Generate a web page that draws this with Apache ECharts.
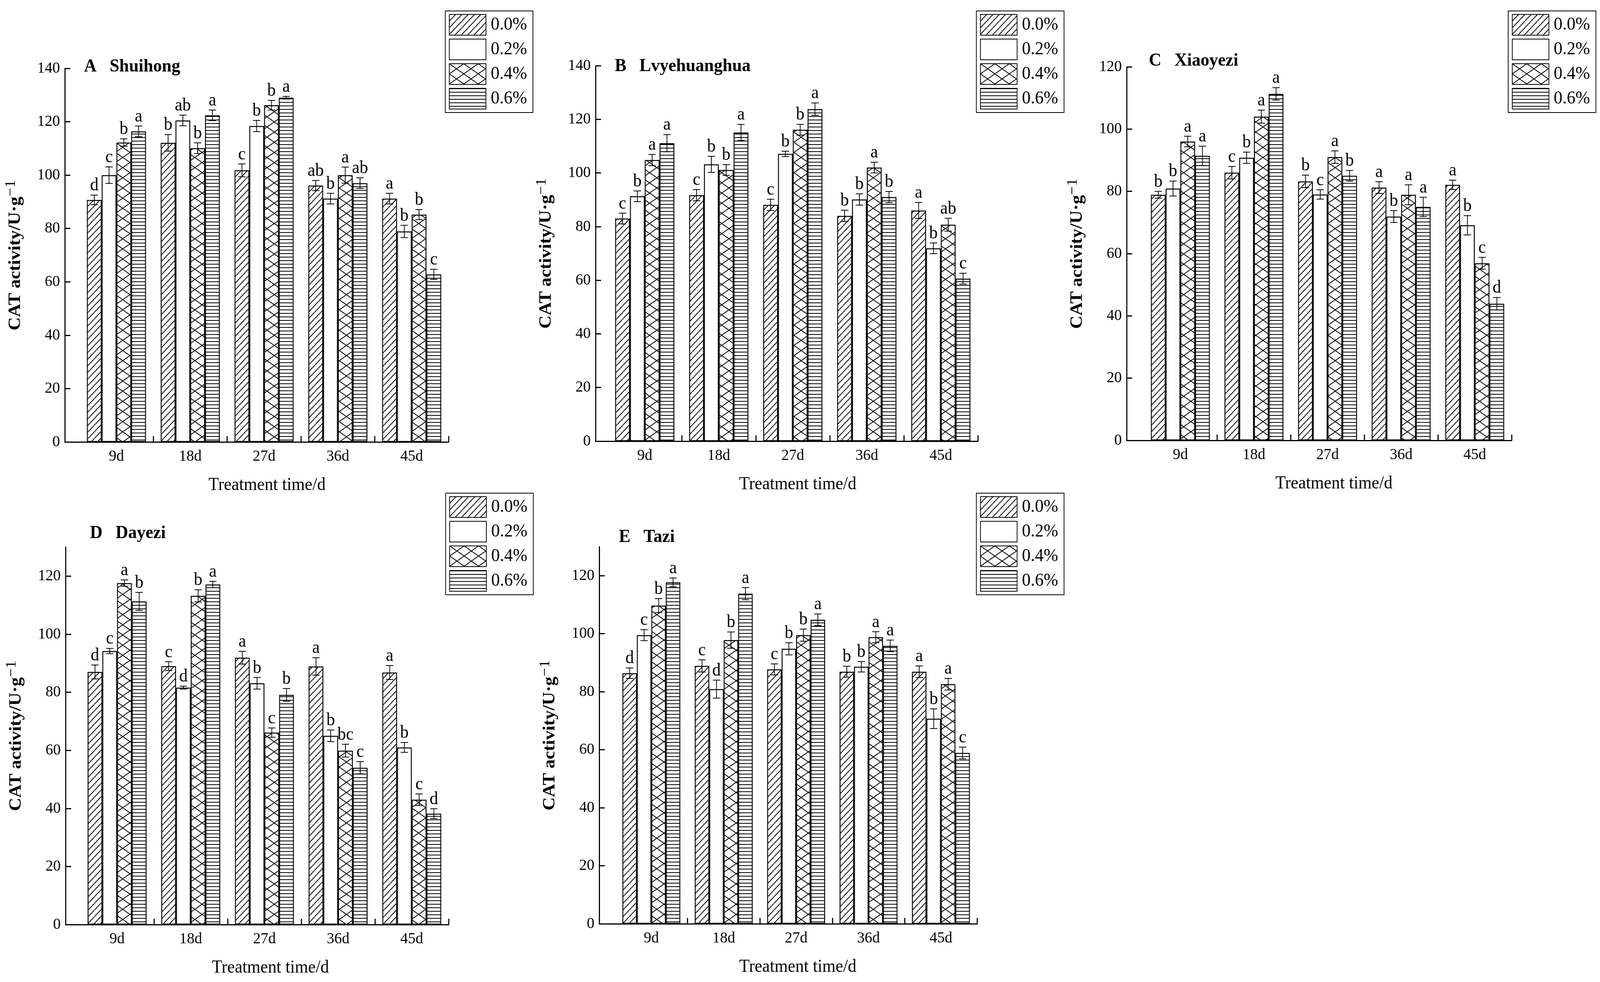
<!DOCTYPE html>
<html>
<head>
<meta charset="utf-8">
<script src="https://cdn.jsdelivr.net/npm/echarts@6/dist/echarts.min.js"></script>
<style>
html,body{margin:0;padding:0;background:#fff;overflow:hidden;}
#outer{position:relative;overflow:hidden;width:100vw;height:100vh;}
#c{position:absolute;left:0;top:0;width:4323px;height:2513px;transform-origin:0 0;}
</style>
</head>
<body>
<div id="outer"><div id="c"></div></div>
<script>
// ---------- data ----------
const days = ['9d', '18d', '27d', '36d', '45d'];
const concentrations = ['0.0%', '0.2%', '0.4%', '0.6%'];
const xTickValues = [1, 2, 3, 4, 5];
const xLabelValues = [0.5, 1.5, 2.5, 3.5, 4.5];
const yTicks140 = [0, 20, 40, 60, 80, 100, 120, 140];
const yTicks120 = [0, 20, 40, 60, 80, 100, 120];

// A Shuihong (rows: 0.0%, 0.2%, 0.4%, 0.6%; columns: 9d..45d)
const shuihongMean = [
  [90.7, 112.1, 101.8, 96.1, 91.2],
  [100.0, 120.5, 118.4, 91.2, 78.9],
  [112.2, 110.1, 126.2, 100.0, 85.2],
  [116.4, 122.4, 129.0, 97.0, 62.8]
];
const shuihongErr = [
  [1.8, 3.1, 2.4, 1.9, 2.0],
  [3.1, 2.0, 2.1, 2.0, 2.3],
  [1.4, 2.0, 1.8, 3.0, 1.9],
  [2.0, 2.0, 0.5, 2.0, 1.9]
];
const shuihongSig = [
  ['d', 'b', 'c', 'ab', 'a'],
  ['c', 'ab', 'b', 'b', 'b'],
  ['b', 'b', 'b', 'a', 'b'],
  ['a', 'a', 'a', 'ab', 'c']
];

// B Lvyehuanghua
const lvyeMean = [
  [83.0, 91.7, 88.1, 84.0, 86.0],
  [91.3, 103.2, 107.1, 90.1, 71.9],
  [104.8, 101.1, 116.1, 102.0, 80.7],
  [111.1, 115.1, 123.8, 91.0, 60.6]
];
const lvyeErr = [
  [2.0, 2.1, 2.1, 2.1, 3.0],
  [2.0, 3.0, 1.0, 2.1, 2.0],
  [2.1, 2.0, 2.0, 2.0, 2.4],
  [3.2, 3.0, 2.3, 2.1, 2.0]
];
const lvyeSig = [
  ['c', 'c', 'c', 'b', 'a'],
  ['b', 'b', 'b', 'b', 'b'],
  ['a', 'b', 'b', 'a', 'ab'],
  ['a', 'a', 'a', 'b', 'c']
];

// C Xiaoyezi
const xiaoMean = [
  [78.9, 86.0, 83.2, 81.2, 82.1],
  [80.9, 90.8, 79.0, 71.9, 69.1],
  [96.0, 104.0, 91.0, 78.9, 56.9],
  [91.4, 111.3, 85.0, 75.0, 43.9]
];
const xiaoErr = [
  [1.1, 2.0, 2.0, 1.9, 1.5],
  [2.4, 1.8, 1.5, 1.9, 3.1],
  [1.7, 2.1, 2.0, 3.2, 1.9],
  [3.1, 2.0, 1.7, 3.1, 2.0]
];
const xiaoSig = [
  ['b', 'c', 'b', 'a', 'a'],
  ['b', 'b', 'c', 'b', 'b'],
  ['a', 'a', 'a', 'a', 'c'],
  ['a', 'a', 'b', 'a', 'd']
];

// D Dayezi
const dayeMean = [
  [87.0, 89.0, 91.9, 88.9, 86.8],
  [94.2, 81.6, 83.1, 65.0, 61.0],
  [117.6, 113.2, 66.1, 59.9, 43.0],
  [111.3, 117.1, 79.1, 54.0, 38.2]
];
const dayeErr = [
  [2.4, 1.5, 2.2, 3.0, 2.4],
  [0.9, 0.5, 2.0, 2.0, 1.7],
  [1.1, 2.1, 1.6, 2.2, 2.0],
  [3.1, 1.1, 2.2, 2.1, 1.7]
];
const dayeSig = [
  ['d', 'c', 'a', 'a', 'a'],
  ['c', 'd', 'b', 'b', 'b'],
  ['a', 'b', 'c', 'bc', 'c'],
  ['b', 'a', 'b', 'c', 'd']
];

// E Tazi
const taziMean = [
  [86.4, 88.9, 87.7, 86.9, 86.9],
  [99.5, 80.9, 94.8, 88.6, 70.7],
  [109.7, 97.8, 99.5, 98.8, 82.6],
  [117.7, 113.8, 104.8, 95.8, 58.9]
];
const taziErr = [
  [1.8, 2.1, 1.9, 1.9, 2.0],
  [1.9, 3.1, 2.1, 1.8, 3.4],
  [2.4, 2.8, 2.1, 1.9, 2.0],
  [1.5, 2.1, 2.0, 2.0, 2.0]
];
const taziSig = [
  ['d', 'c', 'c', 'b', 'a'],
  ['c', 'd', 'b', 'b', 'b'],
  ['b', 'b', 'b', 'a', 'a'],
  ['a', 'a', 'a', 'a', 'c']
];

const panelTitles = ['A   Shuihong', 'B   Lvyehuanghua', 'C   Xiaoyezi', 'D   Dayezi', 'E   Tazi'];
const panelMeans = [shuihongMean, lvyeMean, xiaoMean, dayeMean, taziMean];
const panelErrs = [shuihongErr, lvyeErr, xiaoErr, dayeErr, taziErr];
const panelSigs = [shuihongSig, lvyeSig, xiaoSig, dayeSig, taziSig];
const panelYMax = [140, 140, 120, 130, 130];
const panelYTicks = [yTicks140, yTicks140, yTicks120, yTicks120, yTicks120];

// ---------- layout (pixels of the 4323x2513 figure) ----------
const layout = [
  {left: 175,  top: 175,  width: 1037, height: 956, xmin: -0.2,  title: [227, 171],   legend: [1203, 28],   nameShift: 28},
  {left: 1609, top: 168,  width: 1033, height: 961, xmin: -0.165, title: [1661, 170], legend: [2638, 28],   nameShift: 30},
  {left: 3044, top: 171,  width: 1040, height: 956, xmin: -0.23, title: [3104, 156],  legend: [4075, 28],   nameShift: 40},
  {left: 177,  top: 1400, width: 1035, height: 966, xmin: -0.2,  title: [243, 1365],  legend: [1204, 1262], nameShift: 36},
  {left: 1619, top: 1399, width: 1021, height: 965, xmin: -0.22, title: [1672, 1375], legend: [2638, 1262], nameShift: 26}
];

const FONT = '"Liberation Serif", "Times New Roman", serif';

// stretch the 4323x2513 figure onto the actual viewport
const dom = document.getElementById('c');
const sx = window.innerWidth / 4323;
const sy = window.innerHeight / 2513;
dom.style.transform = 'scale(' + sx + ',' + sy + ')';

// ---------- fill patterns ----------
function makePattern(kind) {
  const c = document.createElement('canvas');
  let w = 4, h = 4;
  if (kind === 'diag') { w = 17; h = 17; }
  if (kind === 'cross') { w = 39; h = 26; }
  if (kind === 'horiz') { w = 4; h = 9; }
  c.width = w; c.height = h;
  const ctx = c.getContext('2d');
  ctx.fillStyle = '#fff';
  ctx.fillRect(0, 0, w, h);
  ctx.strokeStyle = '#000';
  ctx.fillStyle = '#000';
  ctx.lineWidth = 2;
  if (kind === 'diag') {
    for (const off of [-w, 0, w]) {
      ctx.beginPath(); ctx.moveTo(off, h); ctx.lineTo(off + w, 0); ctx.stroke();
    }
  } else if (kind === 'cross') {
    for (const dx of [-w, 0, w]) {
      for (const dy of [-h, 0, h]) {
        ctx.beginPath(); ctx.moveTo(dx, dy); ctx.lineTo(dx + w, dy + h); ctx.stroke();
        ctx.beginPath(); ctx.moveTo(dx, dy + h); ctx.lineTo(dx + w, dy); ctx.stroke();
      }
    }
  } else if (kind === 'horiz') {
    ctx.fillRect(0, 0, w, 2);
  }
  return {image: c, repeat: 'repeat'};
}
const fills = [makePattern('diag'), '#ffffff', makePattern('cross'), makePattern('horiz')];

// ---------- build option ----------
const grids = [], xAxes = [], yAxes = [], series = [], legends = [], graphics = [];

layout.forEach((L, p) => {
  grids.push({left: L.left, top: L.top, width: L.width, height: L.height, containLabel: false, outerBoundsMode: 'none'});

  xAxes.push({
    gridIndex: p, type: 'value', min: L.xmin, max: 5,
    axisLine: {show: true, onZero: false, lineStyle: {color: '#000', width: 3}},
    axisTick: {show: true, inside: true, length: 15, lineStyle: {color: '#000', width: 3}, customValues: xTickValues},
    axisLabel: {
      show: true, customValues: xLabelValues, color: '#000', fontSize: 41, fontFamily: FONT, margin: 17,
      formatter: v => days[Math.round(v - 0.5)]
    },
    splitLine: {show: false},
    name: 'Treatment time/d', nameLocation: 'middle', nameGap: 88,
    nameTextStyle: {fontSize: 46, fontFamily: FONT, color: '#000', padding: [0, 0, 0, 2 * L.nameShift]}
  });

  yAxes.push({
    gridIndex: p, type: 'value', min: 0, max: panelYMax[p], interval: 20,
    axisLine: {show: true, onZero: false, lineStyle: {color: '#000', width: 3}},
    axisTick: {show: true, inside: true, length: 15, lineStyle: {color: '#000', width: 3}, customValues: panelYTicks[p]},
    axisLabel: {show: true, customValues: panelYTicks[p], color: '#000', fontSize: 41, fontFamily: FONT, margin: 13},
    splitLine: {show: false},
    name: '{m|CAT activity/U·g}{s|−1}', nameLocation: 'middle', nameGap: 100, nameRotate: 90,
    nameTextStyle: {
      color: '#000',
      rich: {
        m: {fontSize: 47, fontWeight: 'bold', fontFamily: FONT, color: '#000', lineHeight: 66},
        s: {fontSize: 40, fontFamily: FONT, color: '#000', verticalAlign: 'top', lineHeight: 40}
      }
    }
  });

  const means = panelMeans[p], errs = panelErrs[p], sigs = panelSigs[p];
  concentrations.forEach((name, k) => {
    series.push({
      type: 'bar', name: name, xAxisIndex: p, yAxisIndex: p,
      data: means[k].map((v, i) => [xLabelValues[i], v]),
      barGap: '0%', barCategoryGap: '20%',
      itemStyle: {color: fills[k], borderColor: '#000', borderWidth: 2.5},
      emphasis: {disabled: true}, silent: true, animation: false, z: 2
    });
  });

  const errData = [];
  concentrations.forEach((name, k) => {
    means[k].forEach((v, i) => errData.push([xLabelValues[i], v, errs[k][i], k, i]));
  });
  series.push({
    type: 'custom', name: 'errors' + p, xAxisIndex: p, yAxisIndex: p, z: 5,
    silent: true, animation: false,
    encode: {x: 0, y: 1},
    data: errData,
    renderItem: (params, api) => {
      const xv = api.value(0), v = api.value(1), e = api.value(2), k = api.value(3), i = api.value(4);
      const unit = api.size([1, 0])[0];
      const bw = unit * 0.2;
      const cx = api.coord([xv, v])[0] + (k - 1.5) * bw;
      const yT = api.coord([xv, v + e])[1];
      const yB = api.coord([xv, v - e])[1];
      const cap = 10;
      const ls = {stroke: '#000', lineWidth: 2};
      return {
        type: 'group',
        children: [
          {type: 'line', shape: {x1: cx, y1: yT, x2: cx, y2: yB}, style: ls},
          {type: 'line', shape: {x1: cx - cap, y1: yT, x2: cx + cap, y2: yT}, style: ls},
          {type: 'line', shape: {x1: cx - cap, y1: yB, x2: cx + cap, y2: yB}, style: ls},
          {type: 'text', x: cx, y: yT - 1, style: {
            text: sigs[k][i], fill: '#000', fontSize: 46, fontFamily: FONT,
            align: 'center', verticalAlign: 'bottom'
          }}
        ]
      };
    }
  });

  legends.push({
    left: L.legend[0], top: L.legend[1], orient: 'vertical',
    data: concentrations, icon: 'rect', itemWidth: 99, itemHeight: 53, itemGap: 8,
    padding: [8, 16, 8, 10], borderColor: '#000', borderWidth: 2, backgroundColor: '#fff',
    textStyle: {fontSize: 47, fontFamily: FONT, color: '#000', padding: [0, 0, 0, 8]},
    selectedMode: false
  });

  graphics.push({
    type: 'text', x: L.title[0], y: L.title[1], silent: true,
    style: {text: panelTitles[p], fill: '#000', fontSize: 47, fontWeight: 'bold', fontFamily: FONT, verticalAlign: 'middle', align: 'left'}
  });
});

const chart = echarts.init(dom, null, {renderer: 'canvas'});
chart.setOption({
  animation: false,
  backgroundColor: '#fff',
  textStyle: {fontFamily: FONT},
  grid: grids,
  xAxis: xAxes,
  yAxis: yAxes,
  legend: legends,
  series: series,
  graphic: graphics
});
</script>
</body>
</html>
